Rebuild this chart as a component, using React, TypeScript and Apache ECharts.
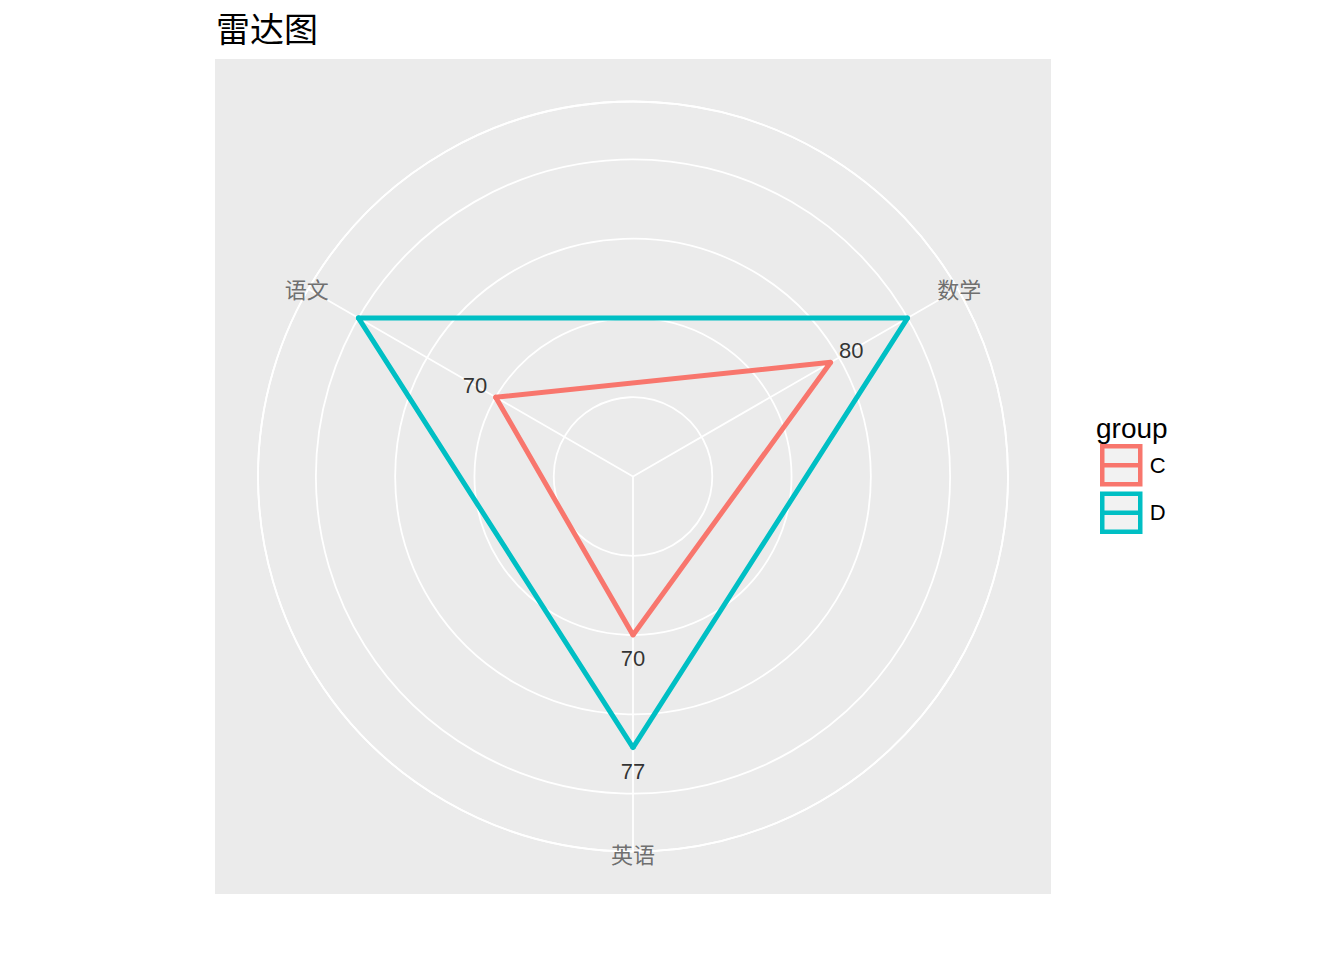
import React, { useEffect, useRef } from "react";
import * as echarts from "echarts";

// ---- data ----
const titleText = "雷达图";
const legendTitle = "group";
const categories = ["语文", "数学", "英语"];
const groups = ["C", "D"];
const groupColors = ["#F8766D", "#00BFC4"];
// plotted (rescaled) radius of each group on each axis, in grid-ring units
const scaledC = [2.0, 2.88, 2.0];
const scaledD = [4.0, 4.0, 3.42];
// printed score labels ("" = not labelled)
const labelsC = ["70", "80", "70"];
const labelsD = ["", "", "77"];
const ringInterval = 1;
const radiusMax = 4.73;

const groupScaled = [scaledC, scaledD];
const groupLabels = [labelsC, labelsD];

const NUM_FONT = "'Liberation Sans', Arial, sans-serif";
const CJK_FONT = "'Noto Sans CJK SC', sans-serif";

export default function App() {
  const ref = useRef<HTMLDivElement>(null);

  useEffect(() => {
    if (!ref.current) return;
    const chart = echarts.init(ref.current, undefined, { renderer: "svg" });
    const n = categories.length;

    const lineSeries = groups.map((g, gi) => {
      const vals = groupScaled[gi];
      const data = vals.map((r, i) => [r, i]);
      data.push([vals[0], n]);
      return {
        name: g,
        type: "line",
        coordinateSystem: "polar",
        data,
        clip: false,
        symbol: "circle",
        symbolSize: 5,
        showSymbol: true,
        itemStyle: { color: groupColors[gi] },
        lineStyle: { color: groupColors[gi], width: 5 },
        z: 5,
      };
    });

    const labelSeries = groups.map((g, gi) => ({
      name: g + "-labels",
      type: "scatter",
      coordinateSystem: "polar",
      clip: false,
      silent: true,
      symbol: "circle",
      symbolSize: 1,
      itemStyle: { color: "rgba(0,0,0,0)" },
      data: groupLabels[gi]
        .map((t, i) => ({ name: t, value: [groupScaled[gi][i] + 0.3, i] }))
        .filter((d) => d.name !== ""),
      label: {
        show: true,
        position: "inside",
        formatter: "{b}",
        color: "#000000",
        fontSize: 22,
        fontFamily: NUM_FONT,
      },
      z: 6,
    }));

    const axisNameSeries = {
      name: "axis-names",
      type: "scatter",
      coordinateSystem: "polar",
      clip: false,
      silent: true,
      symbol: "circle",
      symbolSize: 1,
      itemStyle: { color: "rgba(0,0,0,0)" },
      data: categories.map((c, i) => ({ name: c, value: [radiusMax + 0.02, i] })),
      label: {
        show: true,
        position: "inside",
        formatter: "{b}",
        color: "#4D4D4D",
        fontSize: 22,
        fontFamily: CJK_FONT,
      },
      z: 4,
    };

    const option: any = {
      animation: false,
      title: [
        {
          text: titleText,
          left: 211,
          top: 5,
          textStyle: { fontSize: 34, fontWeight: "normal", color: "#000", fontFamily: CJK_FONT },
        },
        {
          text: legendTitle,
          left: 1096,
          top: 414,
          padding: 0,
          textStyle: { fontSize: 28, fontWeight: "normal", color: "#000", fontFamily: NUM_FONT },
        },
      ],
      graphic: [
        {
          type: "rect",
          z: -10,
          silent: true,
          shape: { x: 215, y: 59, width: 836, height: 835 },
          style: { fill: "#EBEBEB" },
        },
      ],
      polar: { center: [633, 476.5], radius: 375 },
      angleAxis: {
        type: "value",
        min: 0,
        max: n,
        interval: 1,
        startAngle: 150,
        clockwise: true,
        axisLine: { show: true, lineStyle: { color: "#FFFFFF", width: 1.8 } },
        axisTick: { show: false },
        axisLabel: { show: false },
        splitLine: { show: true, lineStyle: { color: "#FFFFFF", width: 1.8 } },
      },
      radiusAxis: {
        type: "value",
        min: 0,
        max: radiusMax,
        interval: ringInterval,
        axisLine: { show: false },
        axisTick: { show: false },
        axisLabel: { show: false },
        splitLine: { show: true, lineStyle: { color: "#FFFFFF", width: 1.8 } },
      },
      legend: {
        orient: "vertical",
        left: 1100,
        top: 444,
        padding: 0,
        selectedMode: false,
        icon: "path://M0,0H40V40H0ZM0,20H40",
        itemWidth: 39,
        itemHeight: 38,
        itemGap: 5,
        itemStyle: { color: "#F2F2F2", borderWidth: 4.5 },
        textStyle: { fontSize: 22, color: "#000", fontFamily: NUM_FONT, padding: [4, 0, 0, 4] },
        data: groups.map((g, gi) => ({ name: g, itemStyle: { borderColor: groupColors[gi] } })),
      },
      series: [...lineSeries, ...labelSeries, axisNameSeries],
    };

    chart.setOption(option);
    return () => chart.dispose();
  }, []);

  return (
    <div
      ref={ref}
      style={{ position: "fixed", left: 0, top: 0, width: 1344, height: 960, background: "#FFFFFF" }}
    />
  );
}
